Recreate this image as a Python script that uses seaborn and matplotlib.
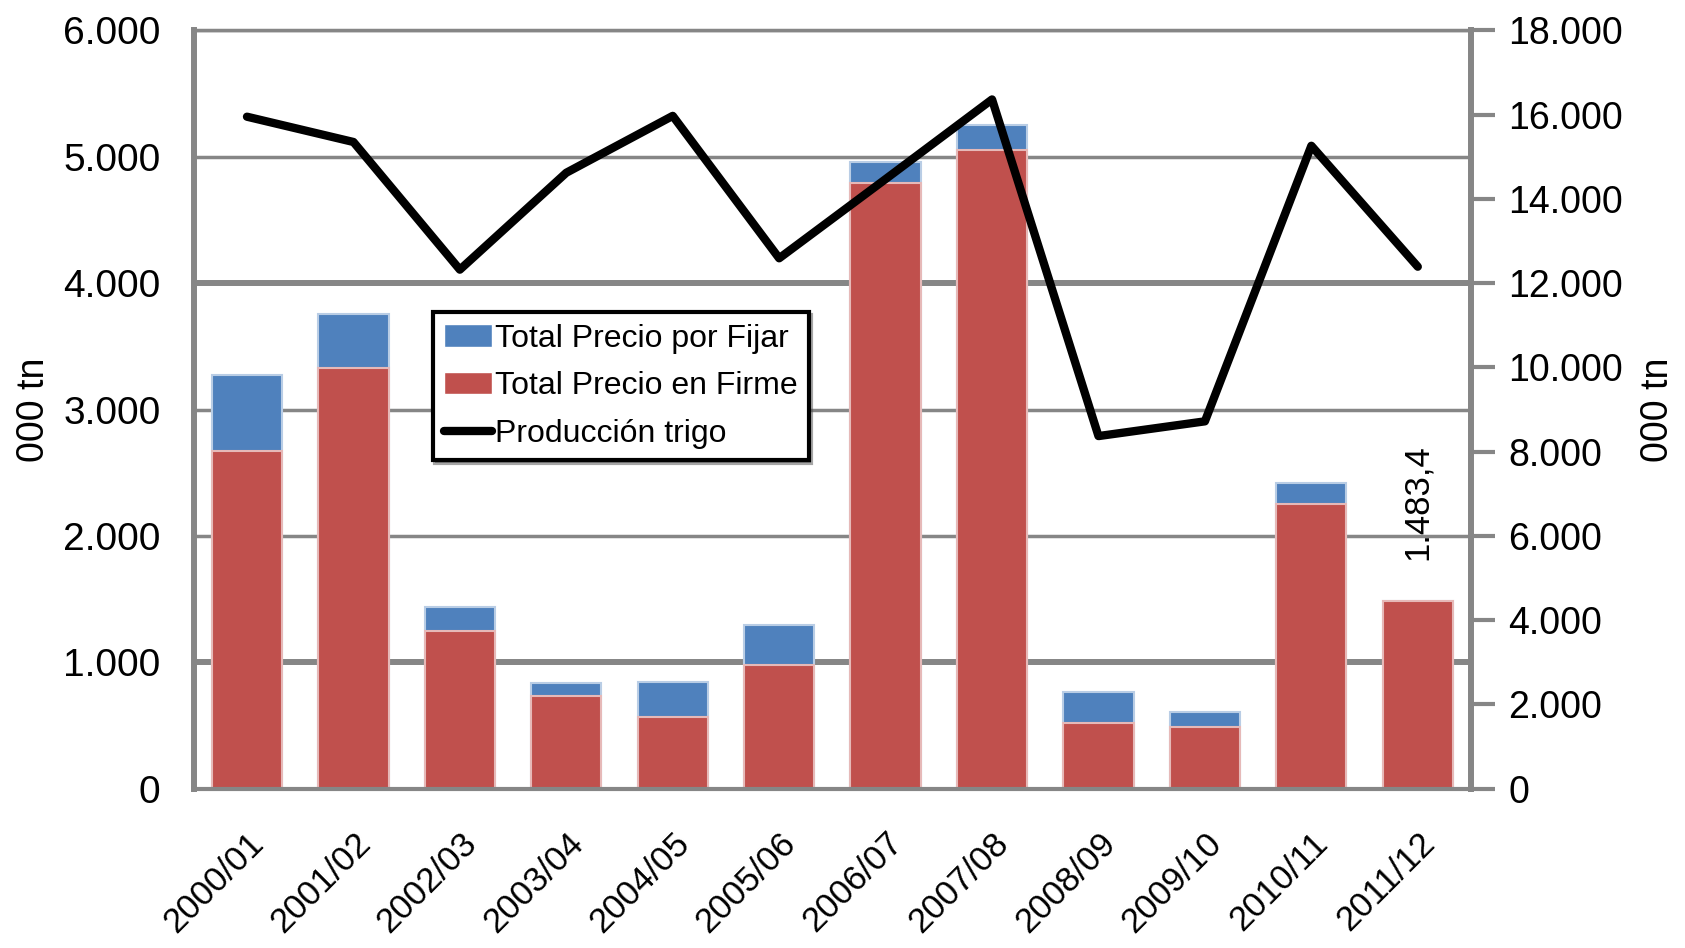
import numpy as np
import pandas as pd
import matplotlib
matplotlib.use("Agg")
import matplotlib.pyplot as plt
import matplotlib.ticker as mticker
from matplotlib import font_manager
from matplotlib.patches import Patch
from matplotlib.lines import Line2D
import seaborn as sns

# datos (miles de tn)
campanias = ["2000/01", "2001/02", "2002/03", "2003/04", "2004/05", "2005/06",
             "2006/07", "2007/08", "2008/09", "2009/10", "2010/11", "2011/12"]
precio_firme = [2675, 3325, 1250, 735, 565, 980, 4795, 5055, 520, 490, 2255, 1483.4]
precio_fijar = [595, 430, 190, 100, 280, 315, 165, 195, 245, 120, 160, 0]
produccion = [15950, 15350, 12320, 14620, 15970, 12590, 14470, 16360, 8370, 8720, 15260, 12390]

df = pd.DataFrame({"campania": campanias, "firme": precio_firme, "fijar": precio_fijar})
df["total"] = df["firme"] + df["fijar"]

sns.set_style("white")
nombres = {f.name for f in font_manager.fontManager.ttflist}
if "Liberation Sans Narrow" in nombres:
    familia, k = "Liberation Sans Narrow", 1.2
else:
    familia, k = "Liberation Sans", 1.0
plt.rcParams["font.family"] = [familia, "DejaVu Sans"]
plt.rcParams["text.color"] = "black"
plt.rcParams["axes.labelcolor"] = "black"
plt.rcParams["xtick.labelcolor"] = "black"
plt.rcParams["ytick.labelcolor"] = "black"

AZUL = "#4F81BD"
ROJO = "#C0504D"
GRIS = "#868686"

fig = plt.figure(figsize=(16.85, 9.48), dpi=100)
ax = fig.add_axes([0.115, 0.168, 0.758, 0.800])

# barras apiladas: total (azul) y encima la parte en firme (roja)
sns.barplot(data=df, x="campania", y="total", color=AZUL, saturation=1, width=0.66,
            edgecolor="#B9CDE5", linewidth=1.5, ax=ax)
sns.barplot(data=df, x="campania", y="firme", color=ROJO, saturation=1, width=0.66,
            edgecolor="#E6B9B8", linewidth=1.5, ax=ax)

ax.set_ylim(0, 6000)
ax.set_xlim(-0.5, len(campanias) - 0.5)
ax.set_yticks(np.arange(0, 6001, 1000))
fmt = mticker.FuncFormatter(lambda v, p: f"{v:,.0f}".replace(",", "."))
ax.yaxis.set_major_formatter(fmt)
ax.yaxis.grid(True, color=GRIS, linewidth=2.5)
for i, gl in enumerate(ax.yaxis.get_gridlines()):
    if i in (1, 4):
        gl.set_linewidth(4.3)
ax.set_axisbelow(True)
ax.set_xlabel("")
ax.set_ylabel("000 tn", fontsize=27 * k, labelpad=8)
ax.tick_params(axis="y", length=0, labelsize=28 * k, pad=24)

# ticks del eje x: separadores hacia afuera, marcas cortas hacia adentro
ax.set_xticks(np.arange(len(campanias)))
ax.set_xticklabels(campanias, rotation=45, ha="right", rotation_mode="anchor", fontsize=25 * k)
ax.set_xticks(np.arange(len(campanias) + 1) - 0.5, minor=True)
ax.tick_params(axis="x", which="major", direction="in", length=7, width=2.5, color=GRIS, pad=27)
ax.tick_params(axis="x", which="minor", direction="out", length=17, width=3, color=GRIS)

for s in ["left", "right"]:
    ax.spines[s].set_color(GRIS)
    ax.spines[s].set_linewidth(4.3)
ax.spines["bottom"].set_color(GRIS)
ax.spines["bottom"].set_linewidth(3)
ax.spines["top"].set_color(GRIS)
ax.spines["top"].set_linewidth(2.5)

# linea de produccion en eje secundario
ax2 = ax.twinx()
sns.lineplot(x=np.arange(len(campanias)), y=produccion, color="black", linewidth=6, ax=ax2)
ax2.set_ylim(0, 18000)
ax2.set_yticks(np.arange(0, 18001, 2000))
ax2.yaxis.set_major_formatter(fmt)
ax2.tick_params(axis="y", direction="out", length=17, width=3, color=GRIS, labelsize=27 * k, pad=10)
ax2.set_ylabel("000 tn", fontsize=27 * k, labelpad=12)
for s in ax2.spines.values():
    s.set_visible(False)

# etiqueta del ultimo valor
ax.text(len(campanias) - 1, df["total"].iloc[-1] + 330, "1.483,4", rotation=90,
        ha="center", va="bottom", fontsize=25 * k)

handles = [Patch(facecolor=AZUL, label="Total Precio por Fijar"),
           Patch(facecolor=ROJO, label="Total Precio en Firme"),
           Line2D([0], [0], color="black", linewidth=6, label="Producción trigo")]
leg = ax.legend(handles=handles, loc="upper left", bbox_to_anchor=(0.187, 0.628),
                fontsize=23 * k, frameon=True, fancybox=False, shadow=True,
                handlelength=1.5, handletextpad=0.1, borderpad=0.35, labelspacing=0.55,
                borderaxespad=0)
leg.get_frame().set_edgecolor("black")
leg.get_frame().set_linewidth(3)
leg.set_zorder(10)

fig.savefig("out.png", dpi=100)
